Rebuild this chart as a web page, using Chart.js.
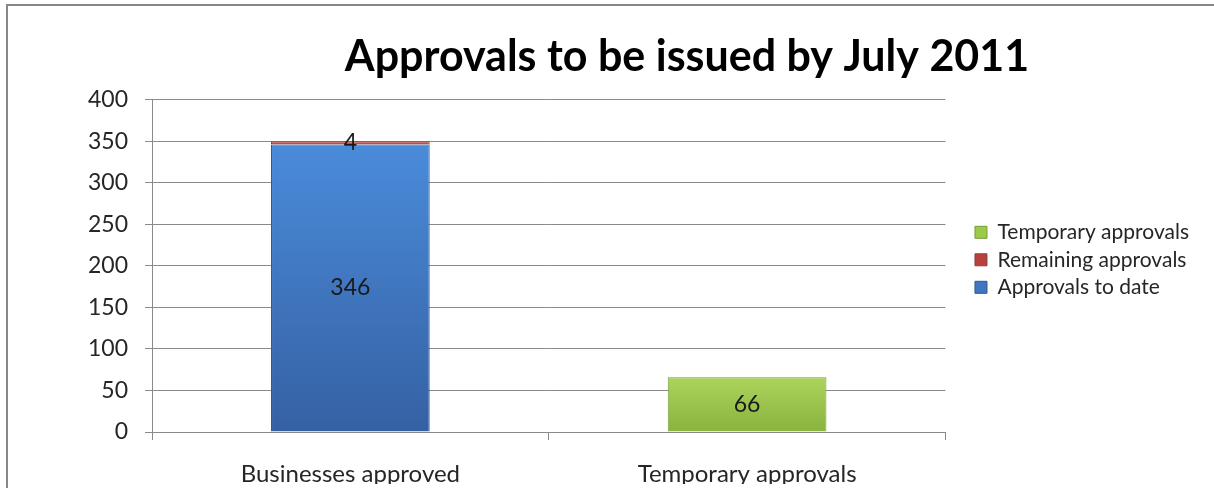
<!DOCTYPE html>
<html>
<head>
<meta charset="utf-8">
<script src="https://cdn.jsdelivr.net/npm/chart.js@4.4.1/dist/chart.umd.min.js"></script>
<style>
  html, body { margin: 0; padding: 0; background: #fff; overflow: hidden; }
  #wrap { position: relative; width: 1214px; height: 488px; }
  #frame { position: absolute; left: 6px; top: 4px; width: 1300px; height: 600px;
           border: 2px solid #878787; box-sizing: border-box; pointer-events: none; }
</style>
</head>
<body>
<div id="wrap">
  <canvas id="APPROVALS_CHART" width="1214" height="488"></canvas>
  <div id="frame"></div>
</div>
<script>
const categories = ['Businesses approved', 'Temporary approvals'];
const approvalsToDate = [346, null];
const remainingApprovals = [4, null];
const temporaryApprovals = [null, 66];
const yMax = 400;
const yStep = 50;

// vertical gradient across each bar, light at the top
function barFill(light, dark, flat){
    return function(context){
        const chart = context.chart;
        const y = chart.scales.y;
        if(!y || context.raw == null) return flat;
        let base = 0;
        for(let d = 0; d < context.datasetIndex; d++){
            base += chart.data.datasets[d].data[context.dataIndex] || 0;
        }
        const g = chart.ctx.createLinearGradient(0, y.getPixelForValue(base + context.raw), 0, y.getPixelForValue(base));
        g.addColorStop(0, light);
        g.addColorStop(1, dark);
        return g;
    };
}

// numbers written in the middle of each segment
const valueLabels = {
    id: 'valueLabels',
    afterDatasetsDraw(chart){
        const ctx = chart.ctx;
        ctx.save();
        ctx.font = '23px Lato';
        ctx.fillStyle = '#1a1a1a';
        ctx.textAlign = 'center';
        ctx.textBaseline = 'middle';
        chart.data.datasets.forEach((ds, i) => {
            chart.getDatasetMeta(i).data.forEach((bar, j) => {
                if(ds.data[j] == null) return;
                const p = bar.getCenterPoint();
                ctx.fillText(ds.data[j], p.x, p.y);
            });
        });
        ctx.restore();
    }
};

// title sits right of the canvas centre and legend a bit above the plot centre
const blockShift = {
    id: 'blockShift',
    afterLayout(chart){
        if(chart.titleBlock) chart.titleBlock.left += 175;
        if(chart.legend){
            chart.legend.top -= 6;
            chart.legend.bottom -= 6;
        }
    }
};

const axisGray = '#8a8a8a';
const textGray = '#262626';

let ctx = document.getElementById('APPROVALS_CHART');
let myChart = new Chart(ctx, {
    type: 'bar',
    data: {
        labels: categories,
        datasets: [{
            label: 'Approvals to date',
            data: approvalsToDate,
            backgroundColor: barFill('#4a8bda', '#3561a3', '#4a7ebb'),
            borderColor: '#2f5690',
            borderWidth: 1
        }, {
            label: 'Remaining approvals',
            data: remainingApprovals,
            backgroundColor: barFill('#d0605c', '#b8413e', '#c0504d'),
            borderColor: '#943c3a',
            borderWidth: 1
        }, {
            label: 'Temporary approvals',
            data: temporaryApprovals,
            backgroundColor: barFill('#abd45c', '#88b33d', '#9bc94b'),
            borderColor: '#779e34',
            borderWidth: 1
        }]
    },
    options: {
        responsive: false,
        animation: false,
        devicePixelRatio: 1,
        categoryPercentage: 1,
        barPercentage: 0.4,
        layout: {
            padding: { right: 15, bottom: 4 }
        },
        scales: {
            x: {
                stacked: true,
                grid: {
                    offset: true,
                    drawOnChartArea: false,
                    tickLength: 8,
                    color: axisGray
                },
                border: { color: axisGray },
                ticks: {
                    padding: 20,
                    color: textGray,
                    font: { family: 'Lato', size: 24 }
                },
                afterFit(scale){ scale.height = 52; }
            },
            y: {
                stacked: true,
                min: 0,
                max: yMax,
                grid: {
                    tickLength: 7,
                    color: axisGray
                },
                border: { color: axisGray },
                ticks: {
                    stepSize: yStep,
                    padding: 17,
                    color: textGray,
                    font: { family: 'Lato', size: 23 }
                },
                afterFit(scale){ scale.width = 152; }
            },
            gap: {
                type: 'linear',
                position: 'right',
                grid: { display: false },
                border: { display: false },
                ticks: { display: false },
                afterFit(scale){ scale.width = 23; }
            }
        },
        plugins: {
            title: {
                display: true,
                text: 'Approvals to be issued by July 2011',
                color: '#000',
                font: { family: 'Lato', size: 43, weight: 'bold' },
                padding: { top: 31, bottom: 17 }
            },
            legend: {
                position: 'right',
                fullSize: false,
                reverse: true,
                maxWidth: 400,
                labels: {
                    boxWidth: 12,
                    boxHeight: 12,
                    padding: 6.5,
                    color: textGray,
                    font: { family: 'Lato', size: 21 }
                }
            },
            tooltip: { enabled: false }
        }
    },
    plugins: [valueLabels, blockShift]
});
</script>
</body>
</html>
